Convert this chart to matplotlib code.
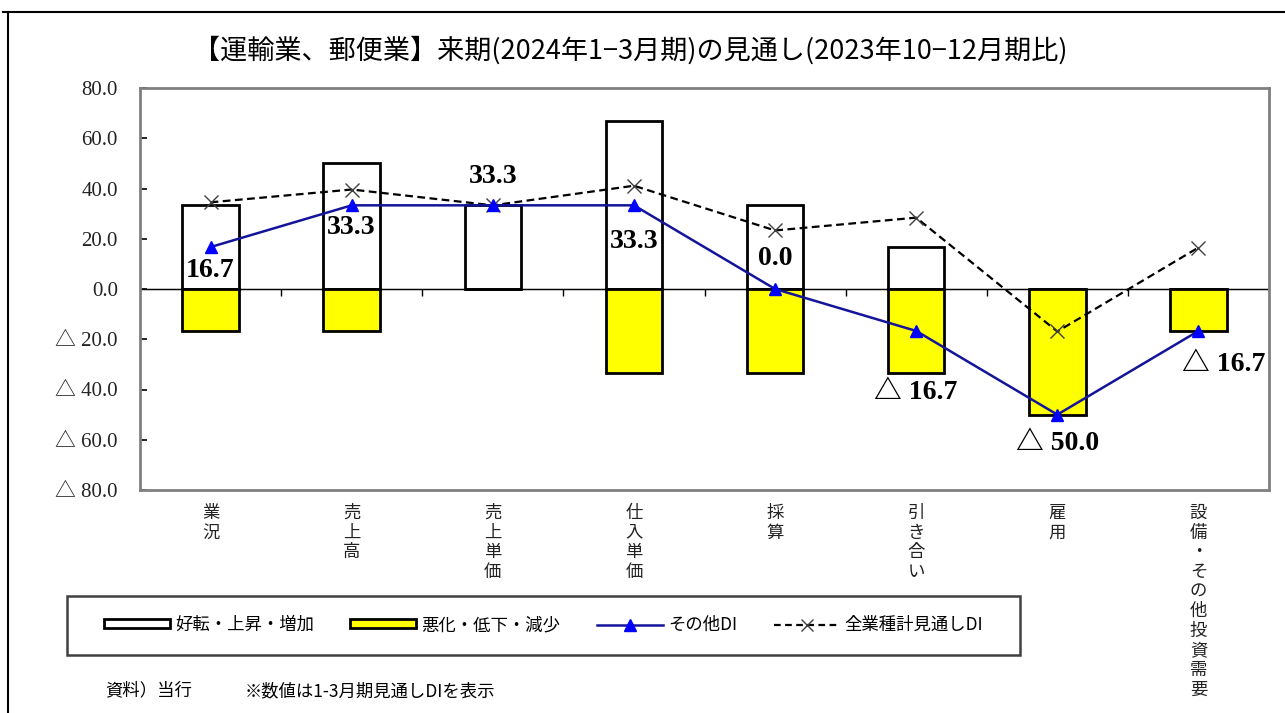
import matplotlib
matplotlib.use('Agg')
import matplotlib.pyplot as plt
import matplotlib.patches as mpatches
from matplotlib.lines import Line2D
import numpy as np

JP = ['Noto Sans CJK JP', 'DejaVu Sans']
NUM = ['Liberation Serif', 'Noto Sans CJK JP']
plt.rcParams['font.family'] = JP

# data
categories = ['業況', '売上高', '売上単価', '仕入単価', '採算', '引き合い', '雇用', '設備・その他投資需要']
improve = [33.3, 50.0, 33.3, 66.7, 33.3, 16.7, 0.0, 0.0]          # 好転・上昇・増加
worsen = [-16.7, -16.7, 0.0, -33.3, -33.3, -33.3, -50.0, -16.7]   # 悪化・低下・減少
other_di = [16.7, 33.3, 33.3, 33.3, 0.0, -16.7, -50.0, -16.7]     # その他DI
all_di = [34.5, 39.6, 33.3, 41.1, 23.3, 28.4, -16.9, 16.5]        # 全業種計見通しDI
yticks = [80, 60, 40, 20, 0, -20, -40, -60, -80]

# label offsets in points (dx, dy)
label_offsets = [(0, -17), (0, -16), (0, 21), (0, -26), (0, 22), (0, -44), (0, -21), (18, -24)]

fig = plt.figure(figsize=(12.85, 7.13), dpi=100)
W, H = 1285, 713

# outer frame
fig.add_artist(Line2D([8 / W, 8 / W], [0, 1 - 12 / H], color='black', lw=1.5))
fig.add_artist(Line2D([3 / W, 1], [1 - 12 / H, 1 - 12 / H], color='black', lw=1.5))

ax = fig.add_axes([140 / W, 1 - 490 / H, (1269 - 140) / W, (490 - 88) / H])
x = np.arange(len(categories))

ax.bar(x, improve, width=0.4, color='white', edgecolor='black', linewidth=2, zorder=2)
ax.bar(x, worsen, width=0.4, color='#FFFF00', edgecolor='black', linewidth=2, zorder=2)
ax.axhline(0, color='black', lw=1, zorder=1)

ax.plot(x, all_di, color='black', lw=1.6, ls=(0, (3.5, 2)), marker='x', ms=10,
        mec='#404040', mew=1, zorder=4)
ax.plot(x, other_di, color='#14149A', lw=1.8, marker='^', ms=9,
        mfc='#0000FF', mec='#0000FF', zorder=5)

for xi, v, (dx, dy) in zip(x, other_di, label_offsets):
    s = f'{v:.1f}' if v >= 0 else f'△ {abs(v):.1f}'
    ax.annotate(s, (xi, v), xytext=(dx, dy), textcoords='offset points',
                ha='center', va='center', fontsize=20, fontweight='bold',
                family=NUM, zorder=6)

ax.set_xlim(-0.5, len(categories) - 0.5)
ax.set_ylim(-80, 80)
ax.set_yticks(yticks)
ax.set_yticklabels([f'{v:.1f}' if v >= 0 else f'△ {abs(v):.1f}' for v in yticks],
                   family=NUM, fontsize=15, color='#222222')
ax.tick_params(axis='y', direction='in', length=5, width=1.2, pad=16)

# category labels written vertically
ax.set_xticks(x)
ax.set_xticklabels(['\n'.join(c) for c in categories], fontsize=12.5,
                   va='top', linespacing=1.12, color='#222222')
ax.tick_params(axis='x', length=0, pad=10)

# boundary ticks on the zero line
sec = ax.secondary_xaxis(0.5)
sec.set_xticks(np.arange(0.5, len(categories) - 1, 1.0))
sec.set_xticklabels([])
sec.tick_params(direction='in', length=5, width=1)
sec.spines['bottom'].set_visible(False)

for sp in ax.spines.values():
    sp.set_color('#808080')
    sp.set_linewidth(2)

fig.text(630 / W, 1 - 50 / H, '【運輸業、郵便業】来期(2024年1−3月期)の見通し(2023年10−12月期比)',
         ha='center', va='center', fontsize=19.5, family=JP)

# legend
fig.add_artist(mpatches.Rectangle((67 / W, 1 - 655 / H), (1020 - 67) / W, (655 - 596) / H,
                                  transform=fig.transFigure, fill=False,
                                  edgecolor='#404040', lw=1.8))
handles = [
    mpatches.Patch(facecolor='white', edgecolor='black', lw=2, label='好転・上昇・増加'),
    mpatches.Patch(facecolor='#FFFF00', edgecolor='black', lw=2, label='悪化・低下・減少'),
    Line2D([], [], color='#14149A', lw=1.8, marker='^', ms=8, mfc='#0000FF', mec='#0000FF',
           label='その他DI'),
    Line2D([], [], color='black', lw=1.6, ls=(0, (3, 2)), marker='x', ms=9, mec='#404040',
           mew=1, label='全業種計見通しDI'),
]
fig.legend(handles=handles, loc='center left', bbox_to_anchor=(88 / W, 1 - 625 / H),
           ncol=4, frameon=False, fontsize=12.5, handlelength=3.8, handleheight=0.45,
           handletextpad=0.3, columnspacing=2.1)

fig.text(105 / W, 1 - 690 / H, '資料）当行', ha='left', va='center', fontsize=12.5)
fig.text(245 / W, 1 - 691 / H, '※数値は1-3月期見通しDIを表示', ha='left', va='center', fontsize=12.5)

fig.savefig('out.png', dpi=100)
